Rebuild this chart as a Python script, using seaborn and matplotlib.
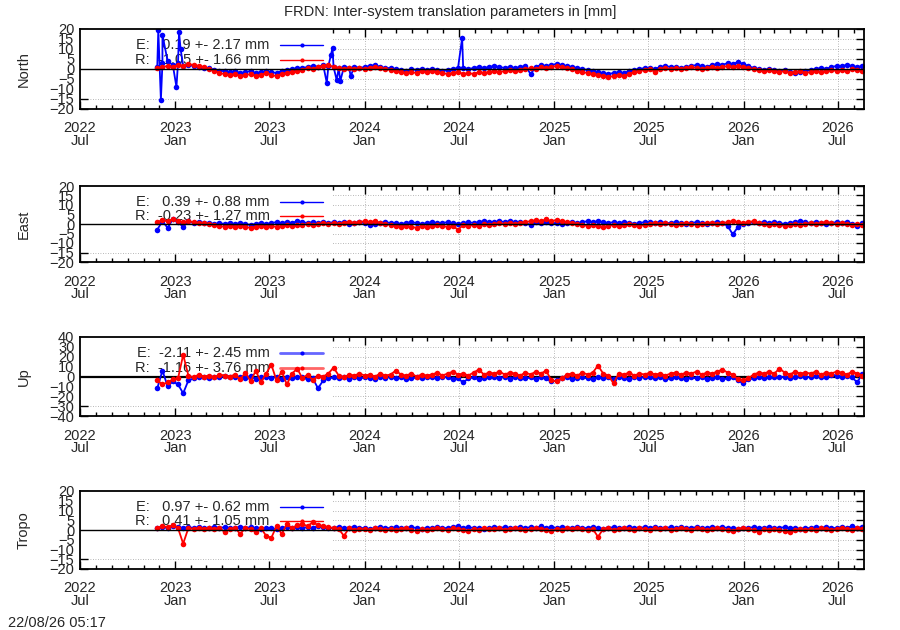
import pandas as pd
import matplotlib
matplotlib.use("Agg")
import matplotlib.pyplot as plt
import matplotlib.dates as mdates
from matplotlib.patches import Rectangle
import seaborn as sns

# readings every 10 days from the first epoch on
start = "2022-11-27"
step = "10D"

north_e = [1.0, 3.0, 4.0, 2.0,
           3.0, 1.5, 2.0, 1.5, 1.0, 0.5,
           0.5, -0.5, -1.0, -1.0, -1.5, -1.0,
           -2.0, -1.5, -1.0, -2.0, -1.5, -1.0,
           -1.5, -2.0, -1.0, -0.5, 0.0, 0.5,
           0.5, 1.0, 1.5, 1.0, 2.0, 1.5,
           1.0, 0.5, 1.0, 0.5, 1.0, 0.5,
           1.0, 1.5, 2.0, 1.0, 0.5, 0.5,
           0.0, -0.5, -1.0, 0.0, -0.5, 0.0, -0.5,
           0.0, -0.5, -1.0, -0.5, 0.0, 0.5,
           0.5, 0.0, 0.5, 1.0, 0.5, 1.0,
           1.5, 1.0, 0.5, 1.0, 0.5, 1.0,
           1.5, -2.5, 1.0, 2.0, 1.5, 2.0,
           2.5, 2.0, 1.5, 1.0, 0.5, 0.0,
           -0.5, -1.0, -1.5, -2.0, -2.5, -2.0,
           -1.5, -2.0, -1.0, -0.5, 0.0, 0.5,
           0.5, 0.0, 1.0, 1.5, 1.0, 1.0,
           0.5, 1.0, 1.5, 2.0, 1.5, 1.0,
           2.0, 2.5, 2.0, 3.0, 2.5, 3.5, 2.5,
           1.5, 0.5, 0.0, -0.5, 0.0, -0.5,
           -1.0, -0.5, -1.5, -2.0, -1.5, -1.0,
           -0.5, 0.0, 0.5, 0.0, 1.0, 1.5,
           1.5, 2.0, 1.5, 1.0, 1.5]
north_r = [0.5, 1.0, 1.5, 1.0,
           2.0, 1.5, 2.5, 2.0, 1.5, 1.0,
           0.0, -1.0, -2.0, -2.5, -3.0, -2.5,
           -3.5, -3.0, -2.5, -3.5, -3.0, -2.0,
           -3.0, -3.5, -2.5, -2.0, -1.5, -1.0,
           -0.5, 0.5, 0.0, 1.0, 1.5, 2.0,
           1.0, 0.5, 0.0, 0.5, 0.0, 0.5,
           0.0, 0.5, 1.0, 0.5, 0.0, -0.5,
           -1.0, -1.5, -2.0, -1.5, -2.0, -1.0, -1.5,
           -1.0, -1.5, -2.0, -2.5, -2.0, -1.5,
           -2.5, -2.0, -2.5, -1.5, -2.0, -1.5,
           -1.0, -1.5, -1.0, -0.5, -1.0, -0.5,
           0.0, 0.5, 0.0, 1.0, 0.5, 1.0,
           1.5, 1.0, 0.5, 0.0, -1.0, -1.5,
           -2.0, -2.5, -3.0, -3.5, -4.0, -3.5,
           -3.0, -3.5, -2.5, -1.5, -1.0, -0.5,
           0.0, -1.5, 0.0, 0.5, 0.0, 0.5,
           0.0, 0.5, 1.0, 0.5, 0.0, 0.5,
           1.0, 0.5, 1.0, 1.5, 1.0, 1.5, 1.0,
           0.5, 0.0, -0.5, -1.0, -0.5, -1.0,
           -1.5, -1.0, -2.0, -1.5, -1.0, -2.0,
           -1.5, -1.0, -1.5, -1.0, -0.5, -1.0,
           -0.5, -1.0, 0.0, -0.5, -1.0]
# isolated outliers of the North E series
north_e_spike_dates = ["2022-11-29", "2022-12-04", "2022-12-07", "2023-01-03",
                       "2023-01-08", "2023-01-11", "2023-10-20", "2023-10-28",
                       "2023-10-31", "2023-11-08", "2023-11-15", "2023-12-05",
                       "2024-07-07"]
north_e_spike_vals = [19.5, -15.5, 17.0, -9.0, 18.5, 10.0, -7.0, 7.0,
                      10.5, -5.5, -6.0, -3.5, 15.5]

east_e = [-3.0, 1.5, -2.0, 2.5,
          1.0, -1.5, 1.5, 0.5, 1.0, 0.5,
          0.5, 0.0, 0.5, 0.0, 0.5, 0.0,
          0.5, 0.0, -0.5, 0.0, 0.5, 0.0,
          0.5, 1.0, 0.5, 1.0, 0.5, 1.5,
          1.0, 0.5, 1.0, 0.5, 1.0, 0.5,
          1.0, 0.5, 1.0, 0.0, 0.5, 1.0,
          0.5, -0.5, 0.0, 0.5, 1.0, 0.5,
          0.5, 0.0, 0.5, 1.0, 0.5, 0.0, 0.5,
          1.0, 0.5, 0.5, 1.0, 0.5, 0.0,
          0.5, 1.0, 0.5, 1.0, 1.5, 1.0,
          1.0, 1.5, 1.0, 1.5, 1.0, 1.0,
          0.5, -0.5, 1.0, 0.5, 1.0, 0.5,
          0.5, 0.0, 0.5, 1.0, 0.5, 1.0,
          1.5, 1.0, 1.5, 1.0, 0.5, 1.0,
          0.5, 1.0, 0.5, 0.0, 0.5, 1.0,
          1.0, 0.5, 1.0, 0.5, 0.5, 1.0,
          0.5, 0.0, 0.5, 1.0, 0.5, 0.0,
          0.5, 1.0, 0.5, -1.0, -5.5, -1.5, 0.0,
          0.5, 1.0, 0.5, 1.0, 0.5, 1.0,
          0.5, 0.0, 0.5, 1.0, 1.5, 1.0,
          0.5, 1.0, 0.5, 0.0, 0.5, 1.0,
          0.5, 1.0, 0.0, -1.0, 0.5]
east_r = [1.0, 2.0, 1.5, 2.5,
          1.5, 1.0, 1.5, 1.0, 0.5, 0.5,
          0.0, -0.5, -1.0, -1.5, -1.0, -1.5,
          -1.0, -1.5, -2.0, -1.5, -1.0, -1.5,
          -1.0, -1.5, -1.0, -0.5, -1.0, -0.5,
          -0.5, 0.0, -0.5, 0.0, 0.5, 0.0,
          0.5, 0.0, 0.5, 1.0, 0.5, 1.0,
          1.5, 1.0, 1.5, 0.5, 0.0, -0.5,
          -1.0, -1.5, -1.0, -1.5, -2.0, -1.0, -1.5,
          -1.0, -0.5, -1.0, -1.5, -1.0, -3.0,
          -0.5, -1.0, -0.5, -1.0, 0.0, -0.5,
          0.0, 0.5, 0.0, 0.5, 0.0, 0.5,
          1.0, 1.5, 2.0, 1.5, 2.5, 1.5,
          2.0, 1.5, 1.0, 0.5, 0.0, -0.5,
          -1.0, -0.5, -1.0, -1.5, -1.0, -0.5,
          -1.0, -0.5, 0.0, -0.5, -1.0, -0.5,
          0.0, 0.5, 0.0, 0.5, 0.0, -0.5,
          0.0, 0.5, 0.0, -0.5, 0.0, 0.5,
          0.5, 0.0, 0.5, 1.0, 1.5, 1.0, 0.5,
          1.0, 1.5, 0.5, 0.0, -0.5, 0.0,
          -0.5, -1.0, -0.5, 0.0, -0.5, 0.0,
          0.5, 0.0, 0.5, 1.0, 0.5, 0.0,
          0.5, 0.0, -0.5, 0.0, -0.5]

up_e = [-12, 6, -10, -5,
        -8, -17, -4, -2, -1, 0,
        -2, 0, -1, 1, 0, -1,
        0, -2, 1, -3, 0, -1,
        -2, 0, -3, -1, -2, 0,
        -1, -3, -2, -12, -4, -2,
        -1, -2, 0, -3, -1, -2,
        -1, -2, -3, -1, -2, 0,
        -2, -1, -3, -2, -1, -2, 0,
        -1, -2, 0, -1, -3, -2,
        -6, -2, -1, -3, -2, 0,
        -1, -2, 0, -3, -1, -2,
        -2, -1, -3, 0, -2, -5,
        -4, -2, -1, -3, -2, -1,
        -2, -3, -1, -2, 0, -3,
        -1, -2, -3, -1, -2, 0,
        -1, -2, -1, -3, -2, -1,
        -2, -3, -1, -2, -1, -3,
        -2, -1, -3, -2, -1, -4, -7,
        -3, -2, -1, -2, -1, 0,
        -1, 0, -2, -1, 1, 0,
        -1, 1, 0, -1, 2, 1,
        0, 1, -1, -6, 3]
up_r = [-4, -8, -6, -3,
        -2, 22, 1, -1, 2, 0,
        1, -1, 2, 1, 0, 2,
        -3, 4, -5, 6, -6, 3,
        12, -4, 5, -8, 3, 8,
        -2, 2, -4, 1, 0, 3,
        9, 1, -1, 2, 1, 3,
        1, 2, 0, 3, 1, 2,
        6, 2, 1, 3, 0, 2, 1,
        2, 4, 1, 3, 5, 2,
        3, 1, 4, 7, 2, 4,
        3, 5, 2, 4, 3, 1,
        4, 2, 5, 3, 6, -4,
        -5, -2, 2, 3, 1, 4,
        2, 4, 11, 3, 1, -7,
        3, 2, 4, 1, 3, 2,
        4, 2, 3, 1, 3, 4,
        2, 4, 3, 5, 2, 4,
        3, 5, 7, 4, 2, -3, -4,
        -2, 2, 4, 3, 5, 3,
        8, 4, 2, 5, 3, 4,
        3, 5, 2, 4, 3, 5,
        4, 2, 5, 3, 1]

tropo_e = [1.0, 1.5, 1.0, 2.0,
           1.5, 1.0, 1.5, 1.0, 1.5, 1.0,
           1.0, 1.5, 1.0, 1.5, 1.0, 1.0,
           1.5, 1.0, 1.5, 1.0, 0.5, 1.0,
           1.0, 0.5, 1.0, 1.5, 1.0, 1.5,
           1.0, 1.5, 1.0, 2.0, 1.5, 1.0,
           1.0, 1.5, 1.0, 1.0, 1.5, 1.0,
           1.0, 0.5, 1.0, 1.5, 1.0, 1.0,
           1.5, 1.0, 1.0, 1.5, 1.0, 0.5, 1.0,
           1.0, 1.5, 1.0, 1.0, 1.5, 2.0,
           1.0, 1.5, 1.0, 1.0, 0.5, 1.0,
           1.5, 1.0, 1.5, 1.0, 1.0, 1.5,
           1.0, 1.5, 1.0, 2.0, 1.0, 1.5,
           1.0, 1.5, 1.0, 1.0, 1.5, 1.0,
           1.0, 1.5, 1.0, 0.5, 1.0, 1.5,
           1.0, 1.0, 1.5, 1.0, 1.0, 1.5,
           1.0, 1.5, 1.0, 1.0, 1.5, 1.0,
           1.5, 1.0, 1.0, 1.5, 1.0, 1.0,
           1.5, 1.0, 1.5, 1.0, 1.0, 0.5, 1.0,
           1.0, 1.5, 1.0, 1.0, 1.5, 1.0,
           1.0, 1.5, 1.0, 1.0, 0.5, 1.0,
           1.0, 1.5, 1.0, 1.5, 1.0, 1.0,
           1.5, 1.0, 2.0, 1.0, 1.5]
tropo_r = [1.0, 2.0, 1.5, 2.5,
           1.0, -7.0, 1.0, 0.5, 1.0, 0.5,
           1.0, 0.5, 1.0, -1.0, 0.5, 1.0,
           -2.0, 1.0, 0.5, -1.0, 1.0, -3.0,
           -4.0, 2.0, -2.0, 3.0, 1.0, 2.5,
           3.0, 2.0, 4.0, 2.5, 2.0, 1.5,
           1.0, 0.5, -3.0, 1.0, 0.0, 0.5,
           0.5, 0.0, 1.0, 0.5, 0.0, 0.5,
           0.0, 0.5, 1.0, 0.0, -0.5, 0.5, 0.0,
           0.5, 1.0, 0.5, 0.0, 1.0, 0.5,
           0.0, -0.5, 0.5, 0.0, 1.0, 0.5,
           0.5, 1.0, 0.0, 0.5, 1.0, 0.5,
           0.0, 0.5, 1.0, 0.5, 0.0, -0.5,
           0.5, 0.0, 1.0, 0.5, 1.0, 0.5,
           0.0, 0.5, -3.5, 0.5, 1.0, 0.0,
           0.5, 1.0, 0.5, 0.0, 1.0, 0.5,
           0.0, 1.0, 0.5, 1.0, 0.0, 0.5,
           1.0, 0.5, 0.0, 1.0, 0.5, 0.0,
           0.5, 1.0, 0.5, 0.0, -0.5, 0.5, 1.0,
           0.5, 0.0, -1.0, 0.5, 0.0, 0.5,
           0.0, -0.5, -1.0, 0.0, 0.5, 0.0,
           0.5, 0.0, 1.0, 0.5, 0.0, 0.5,
           1.0, 0.5, 0.0, 1.0, 0.5]

panel_names = ["North", "East", "Up", "Tropo"]
panel_limits = [20, 20, 40, 20]
panel_steps = [5, 5, 10, 5]
e_labels = ["E:   0.19 +- 2.17 mm", "E:   0.39 +- 0.88 mm",
            "E:  -2.11 +- 2.45 mm", "E:   0.97 +- 0.62 mm"]
r_labels = ["R:  -1.05 +- 1.66 mm", "R:  -0.23 +- 1.27 mm",
            "R:  -1.16 +- 3.76 mm", "R:   0.41 +- 1.05 mm"]

title = "FRDN: Inter-system translation parameters in [mm]"
stamp = "22/08/26 05:17"


def series(vals, extra_dates=None, extra_vals=None):
    df = pd.DataFrame({"t": pd.date_range(start, periods=len(vals), freq=step),
                       "v": vals})
    if extra_dates:
        df = pd.concat([df, pd.DataFrame({"t": pd.to_datetime(extra_dates),
                                          "v": extra_vals})])
    return df.sort_values("t").reset_index(drop=True)


data = [
    (series(north_e, north_e_spike_dates, north_e_spike_vals), series(north_r)),
    (series(east_e), series(east_r)),
    (series(up_e), series(up_r)),
    (series(tropo_e), series(tropo_r)),
]

sns.set_style("ticks")
plt.rcParams["font.family"] = ["Liberation Sans", "DejaVu Sans"]
plt.rcParams["font.size"] = 10.5

fig = plt.figure(figsize=(9, 6.3), dpi=100)
# panel frames in pixels: (top, bottom)
frames = [(29, 109), (186, 262), (337, 416), (491, 569)]
left_px, right_px = 80, 864

xmin = pd.Timestamp("2022-07-01")
xmax = pd.Timestamp("2026-08-21")
key_edge = 0.321  # fraction of the width hidden by the opaque key

for k, (top, bot) in enumerate(frames):
    ax = fig.add_axes([left_px / 900, (630 - bot) / 630,
                       (right_px - left_px) / 900, (bot - top) / 630])
    lim = panel_limits[k]
    st = panel_steps[k]
    ax.set_xlim(xmin, xmax)
    ax.set_ylim(-lim, lim)

    # grid: horizontal dotted, vertical only right of the key
    for yv in range(-lim + st, lim, st):
        if yv != 0:
            ax.axhline(yv, color="#a0a0a0", lw=0.6, ls=(0, (1, 2)), zorder=0.5)
    for d in pd.date_range("2024-01-01", xmax, freq="6MS"):
        ax.axvline(d, color="#a0a0a0", lw=0.6, ls=(0, (1, 2)), zorder=0.5)

    # opaque key background
    ax.add_patch(Rectangle((0, 0.19), key_edge, 0.81, transform=ax.transAxes,
                           facecolor="white", edgecolor="none", zorder=1))

    ax.axhline(0, color="black", lw=1.0 if k != 2 else 1.6,
               zorder=4 if k != 2 else 1.5)

    e_df, r_df = data[k]
    sns.lineplot(data=e_df, x="t", y="v", ax=ax, color="#0000ff", lw=1.3,
                 marker="o", markersize=4, markeredgewidth=0,
                 estimator=None, zorder=2)
    sns.lineplot(data=r_df, x="t", y="v", ax=ax, color="#ff0000", lw=1.3,
                 marker="o", markersize=4, markeredgewidth=0,
                 estimator=None, zorder=3)

    # key
    for label, color, yk in [(e_labels[k], "#0000ff", 0.795),
                             (r_labels[k], "#ff0000", 0.61)]:
        ax.text(0.242, yk, label, transform=ax.transAxes, ha="right",
                va="center", zorder=1.2)
        alpha = 0.6 if k == 2 else 1.0
        lw = 2.0 if k == 2 else 1.0
        ax.plot([0.255, 0.310], [yk, yk], transform=ax.transAxes, color=color,
                lw=lw, alpha=alpha, zorder=1.3)
        ax.plot([0.283], [yk], transform=ax.transAxes, color=color,
                marker="o", markersize=3, markeredgewidth=0, zorder=1.3)

    ax.set_yticks(range(-lim, lim + 1, st))
    ax.xaxis.set_major_locator(mdates.MonthLocator(bymonth=[1, 7]))
    ax.xaxis.set_major_formatter(mdates.DateFormatter("%Y\n%b"))
    ax.xaxis.set_minor_locator(mdates.MonthLocator())
    ax.tick_params(which="both", direction="in", top=True, right=True,
                   width=1.0, color="black")
    ax.tick_params(which="major", length=6, pad=4)
    ax.tick_params(axis="x", which="major", pad=9)
    ax.tick_params(which="minor", length=3)
    for lab in ax.get_xticklabels():
        lab.set_linespacing(0.9)

    for sp in ax.spines.values():
        sp.set_linewidth(1.3)
        sp.set_color("black")
        sp.set_zorder(5)

    ax.set_xlabel("")
    ax.set_ylabel(panel_names[k])
    ax.yaxis.set_label_coords(-0.0625, 0.5)

fig.text(450 / 900, 1 - 12 / 630, title, ha="center", va="center")
fig.text(8 / 900, 1 - 623 / 630, stamp, ha="left", va="center")

fig.savefig("out.png", dpi=100)
plt.close(fig)
